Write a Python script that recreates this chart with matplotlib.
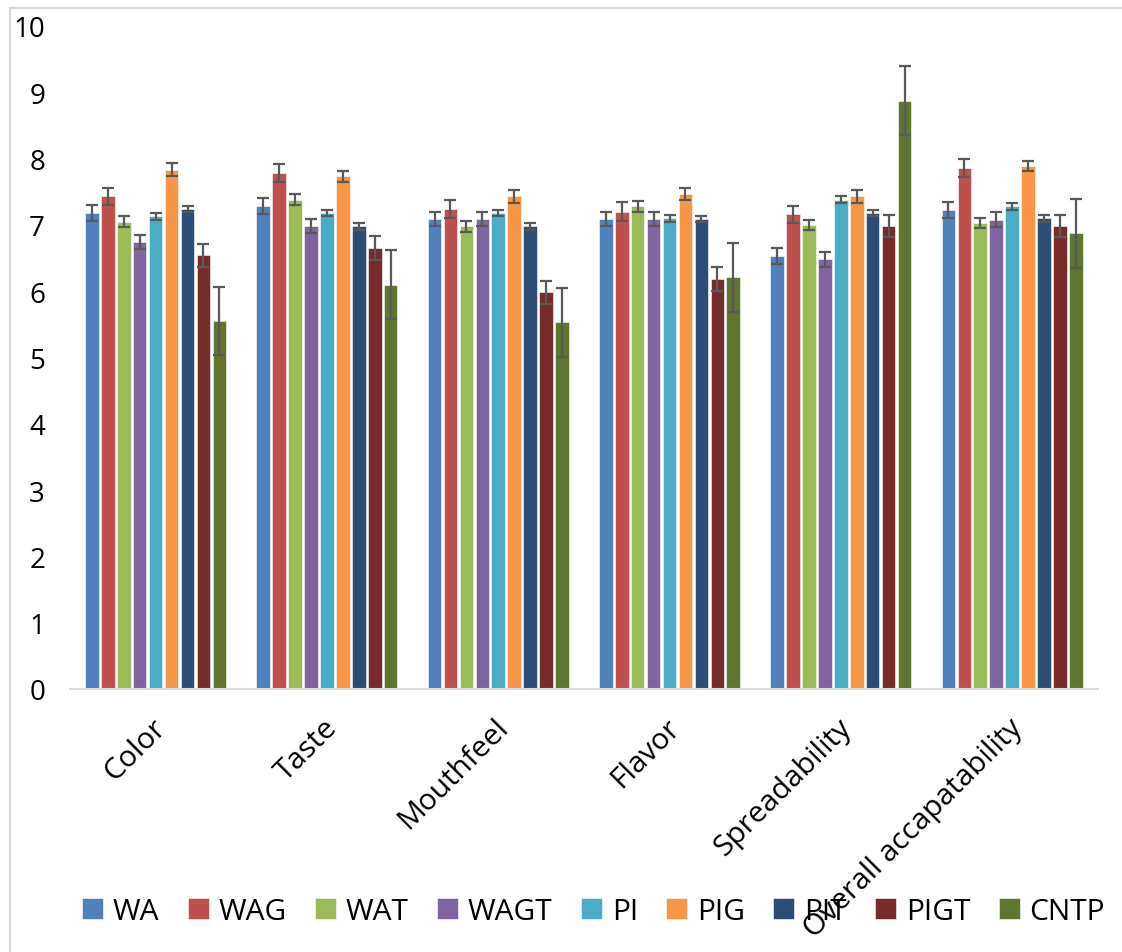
import matplotlib
matplotlib.use('Agg')
import matplotlib.pyplot as plt
import matplotlib.transforms as mtransforms
import numpy as np
from matplotlib.lines import Line2D

# sensory attributes and samples
categories = ['Color', 'Taste', 'Mouthfeel', 'Flavor', 'Spreadability', 'Overall accapatability']
samples = ['WA', 'WAG', 'WAT', 'WAGT', 'PI', 'PIG', 'PIT', 'PIGT', 'CNTP']

# mean scores, one row per sample (order of categories)
WA = [7.18, 7.28, 7.09, 7.09, 6.53, 7.23]
WAG = [7.43, 7.78, 7.24, 7.20, 7.16, 7.86]
WAT = [7.05, 7.38, 6.98, 7.28, 7.00, 7.03]
WAGT = [6.74, 6.98, 7.09, 7.09, 6.48, 7.08]
PI = [7.13, 7.18, 7.18, 7.10, 7.38, 7.28]
PIG = [7.83, 7.73, 7.43, 7.46, 7.43, 7.89]
PIT = [7.24, 6.98, 6.98, 7.09, 7.18, 7.10]
PIGT = [6.54, 6.65, 5.98, 6.18, 6.98, 6.98]
CNTP = [5.55, 6.10, 5.53, 6.21, 8.87, 6.87]

# error bars (+/-)
WA_err = [0.12, 0.12, 0.11, 0.11, 0.12, 0.12]
WAG_err = [0.13, 0.14, 0.13, 0.14, 0.13, 0.14]
WAT_err = [0.08, 0.08, 0.08, 0.08, 0.07, 0.07]
WAGT_err = [0.10, 0.11, 0.11, 0.10, 0.11, 0.11]
PI_err = [0.05, 0.05, 0.05, 0.05, 0.05, 0.05]
PIG_err = [0.10, 0.09, 0.10, 0.09, 0.10, 0.08]
PIT_err = [0.04, 0.05, 0.05, 0.04, 0.05, 0.05]
PIGT_err = [0.17, 0.18, 0.18, 0.18, 0.17, 0.17]
CNTP_err = [0.52, 0.52, 0.52, 0.52, 0.52, 0.52]

colors = ['#4F81BD', '#C0504D', '#9BBB59', '#8064A2', '#4BACC6',
          '#F79646', '#2C4D75', '#772C2A', '#5F7530']

means = [WA, WAG, WAT, WAGT, PI, PIG, PIT, PIGT, CNTP]
errs = [WA_err, WAG_err, WAT_err, WAGT_err, PI_err, PIG_err, PIT_err, PIGT_err, CNTP_err]

plt.rcParams['font.family'] = ['Open Sans', 'DejaVu Sans']

fig = plt.figure(figsize=(11.22, 9.53), dpi=100)
ax = fig.add_axes([0.0624, 0.276, 0.916, 0.6957])

x = np.arange(len(categories))
slot = 0.093
width = 0.079
for i, (name, vals, e) in enumerate(zip(samples, means, errs)):
    pos = x + (i - 4) * slot
    ax.bar(pos, vals, width=width, color=colors[i], label=name,
           edgecolor='white', linewidth=0.4)
    ax.errorbar(pos, vals, yerr=e, fmt='none', ecolor='#595959',
                elinewidth=1.6, capsize=4.5, capthick=1.6)

ax.set_xlim(-0.5, len(categories) - 0.5)
ax.set_ylim(0, 10)
ax.set_yticks(range(0, 11))
ax.tick_params(axis='y', length=0, labelsize=20, pad=18)
ax.tick_params(axis='x', length=0, labelsize=21.5, pad=17)
ax.set_xticks(x)
ax.set_xticklabels(categories, rotation=45, ha='right', va='top',
                   rotation_mode='anchor')
shift = mtransforms.ScaledTranslation(-4 / 100, 0, fig.dpi_scale_trans)
for lbl in ax.get_xticklabels():
    lbl.set_transform(lbl.get_transform() + shift)

for side in ['top', 'right', 'left']:
    ax.spines[side].set_visible(False)
ax.spines['bottom'].set_color('#d9d9d9')
ax.spines['bottom'].set_linewidth(1.5)

ax.legend(loc='center', bbox_to_anchor=(0.529, 0.043), bbox_transform=fig.transFigure,
          ncol=9, frameon=False, fontsize=21.5, handlelength=0.7, handleheight=0.7,
          handletextpad=0.33, columnspacing=0.95, borderpad=0)

# chart area border (left and top edges are visible in the crop)
fig.add_artist(Line2D([0.009, 0.009], [0, 0.991], color='#d9d9d9', lw=1.5))
fig.add_artist(Line2D([0.009, 1.0], [0.991, 0.991], color='#d9d9d9', lw=1.5))

fig.savefig('out.png', dpi=100)
